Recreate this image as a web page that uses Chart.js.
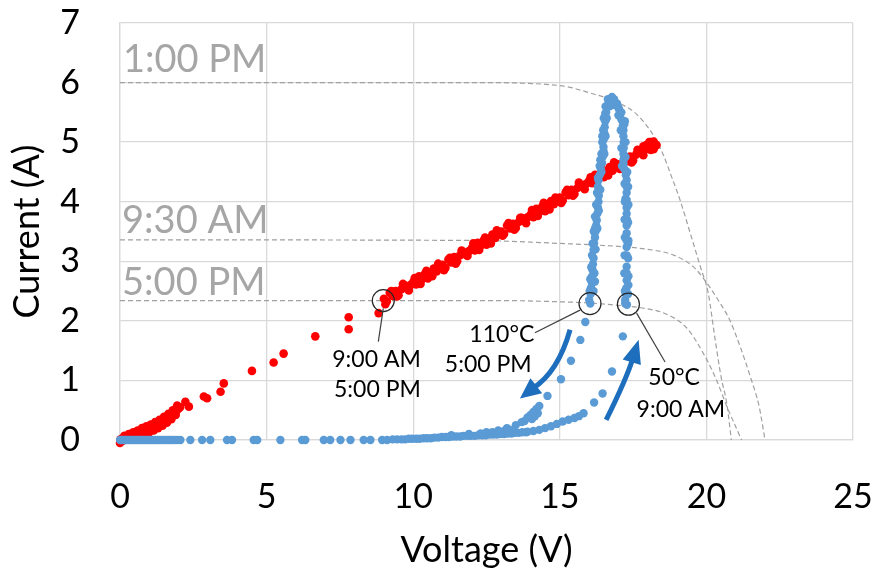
<!DOCTYPE html>
<html>
<head>
<meta charset="utf-8">
<script src="https://cdn.jsdelivr.net/npm/chart.js@4.4.0/dist/chart.umd.min.js"></script>
<style>
  html, body { margin: 0; padding: 0; background: #fff; }
</style>
</head>
<body>
<canvas id="ivChart" width="877" height="573"></canvas>
<script>
// axis ticks
const xTicks = [0, 5, 10, 15, 20, 25];
const yTicks = [0, 1, 2, 3, 4, 5, 6, 7];

// red series: load line (9:00 AM - 5:00 PM)
const redVoltage = [
  0, 0.02, 0.08, 0.12, 0.18, 0.22, 0.28, 0.33, 0.38, 0.42, 0.48, 0.52, 0.58, 0.63, 0.68, 0.72, 0.78, 0.83, 0.88, 0.93,
  0.98, 1.03, 1.08, 1.13, 1.18, 1.23, 1.28, 1.33, 1.38, 1.43, 1.48, 1.53, 1.58, 1.63, 1.68, 1.73, 1.8, 1.86, 1.93, 2.0, 2.05,
  0.1, 0.25, 0.4, 0.55, 0.7, 0.85, 1.0, 1.15, 1.3, 1.45, 1.6, 1.75, 1.9,
  0.15, 0.3, 0.45, 0.6, 0.75, 0.9, 1.05, 1.2, 1.35, 1.5, 1.65, 1.8, 1.95,
  2.23, 2.35, 2.86, 2.97, 3.43, 3.54, 4.5, 5.24, 5.58, 6.66, 7.8, 7.8, 8.82,
  9.0, 9.1, 9.2, 9.3, 9.4, 9.5, 9.6, 9.7, 9.8, 9.9, 10.0, 10.1, 10.2, 10.3, 10.4, 10.5, 10.6, 10.7, 10.8, 10.9,
  11.0, 11.1, 11.2, 11.3, 11.4, 11.5, 11.6, 11.7, 11.8, 11.9, 12.0, 12.1, 12.2, 12.3, 12.4, 12.5, 12.6, 12.7, 12.8, 12.9,
  13.0, 13.1, 13.2, 13.3, 13.4, 13.5, 13.6, 13.7, 13.8, 13.9, 14.0, 14.1, 14.2, 14.3, 14.4, 14.5, 14.6, 14.7, 14.8, 14.9,
  15.0, 15.1, 15.2, 15.3, 15.4, 15.5, 15.6, 15.7, 15.8, 15.9, 16.0, 16.1, 16.2, 16.3, 16.4, 16.5, 16.6, 16.7, 16.8, 16.9,
  17.0, 17.1, 17.2, 17.3, 17.4, 17.5, 17.6, 17.7, 17.8, 17.9, 18.0, 18.1, 18.2,
  9.05, 9.25, 9.45, 9.65, 9.85, 10.05, 10.25, 10.45, 10.65, 10.85, 11.05, 11.25, 11.45, 11.65, 11.85, 12.05, 12.25, 12.45,
  12.65, 12.85, 13.05, 13.25, 13.45, 13.65, 13.85, 14.05, 14.25, 14.45, 14.65, 14.85, 15.05, 15.25, 15.45, 15.65, 15.85,
  16.05, 16.25, 16.45, 16.65, 16.85, 17.05, 17.25, 17.45, 17.65, 17.85, 18.05,
  17.85, 17.95, 18.05, 18.1, 18.15, 18.25, 18.2, 18.3
];
const redCurrent = [
  -0.05, 0.01, 0.02, 0.04, 0.03, 0.06, 0.05, 0.08, 0.07, 0.1, 0.09, 0.12, 0.11, 0.14, 0.13, 0.16, 0.15, 0.18, 0.17, 0.2,
  0.18, 0.22, 0.2, 0.25, 0.23, 0.27, 0.26, 0.3, 0.29, 0.33, 0.32, 0.36, 0.35, 0.39, 0.38, 0.42, 0.43, 0.47, 0.49, 0.53, 0.55,
  -0.01, 0.02, 0.04, 0.06, 0.09, 0.11, 0.13, 0.16, 0.2, 0.24, 0.29, 0.35, 0.42,
  0.07, 0.1, 0.13, 0.16, 0.2, 0.23, 0.26, 0.3, 0.34, 0.39, 0.44, 0.5, 0.58,
  0.64, 0.56, 0.73, 0.7, 0.81, 0.95, 1.16, 1.3, 1.45, 1.74, 1.86, 2.06, 2.13,
  2.37, 2.33, 2.47, 2.42, 2.50, 2.43, 2.53, 2.60, 2.55, 2.60, 2.65, 2.61, 2.75, 2.70, 2.79, 2.71, 2.81, 2.88, 2.83, 2.89,
  2.94, 2.89, 3.03, 2.98, 3.07, 3.00, 3.10, 3.16, 3.11, 3.17, 3.22, 3.18, 3.31, 3.26, 3.35, 3.28, 3.38, 3.45, 3.39, 3.45,
  3.50, 3.46, 3.60, 3.55, 3.63, 3.56, 3.66, 3.73, 3.68, 3.74, 3.78, 3.74, 3.88, 3.83, 3.92, 3.84, 3.94, 4.01, 3.96, 4.02,
  4.07, 4.02, 4.16, 4.11, 4.20, 4.13, 4.23, 4.29, 4.24, 4.30, 4.35, 4.31, 4.45, 4.39, 4.48, 4.41, 4.51, 4.58, 4.52, 4.58,
  4.63, 4.59, 4.73, 4.68, 4.76, 4.69, 4.79, 4.86, 4.81, 4.87, 4.91, 4.87, 5.01,
  2.28, 2.50, 2.41, 2.62, 2.51, 2.72, 2.62, 2.84, 2.75, 2.96, 2.85, 3.06, 2.96, 3.18, 3.09, 3.30, 3.19, 3.40,
  3.30, 3.52, 3.43, 3.64, 3.53, 3.73, 3.64, 3.86, 3.76, 3.98, 3.87, 4.07, 3.98, 4.20, 4.10, 4.32, 4.21,
  4.41, 4.32, 4.54, 4.44, 4.66, 4.55, 4.75, 4.66, 4.87, 4.78, 5.00,
  4.93, 4.95, 4.96, 5.0, 4.93, 4.97, 4.88, 4.95
];

// blue series: module temperature loop (9:00 AM -> 5:00 PM)
const blueVoltage = [
  0, 0.05, 0.1, 0.16, 0.22, 0.28, 0.34, 0.4, 0.47, 0.54, 0.6, 0.67, 0.74, 0.8, 0.87, 0.94, 1.0, 1.07, 1.14, 1.2,
  1.28, 1.36, 1.44, 1.52, 1.6, 1.68, 1.76, 1.85, 1.95, 2.06, 2.4, 2.8, 3.08, 3.65, 3.82, 4.56, 4.68, 5.47, 6.21, 6.32,
  6.95, 7.17, 7.52, 7.86, 8.31, 8.54, 8.94, 9.11, 9.3, 9.45, 9.6, 9.72, 9.85, 9.97, 10.1, 10.22, 10.35, 10.47, 10.6, 10.72,
  10.85, 10.97, 11.1, 11.22, 11.35, 11.47, 11.6, 11.72, 11.85, 11.97, 12.1, 12.22, 12.35, 12.47, 12.6, 12.72, 12.85, 12.97, 13.1, 13.22,
  13.35, 13.47, 13.6, 13.72, 13.85,
  11.3, 11.9, 12.3, 12.7, 13.1, 13.4,
  // afternoon branch
  12.5, 12.9, 13.2, 13.5, 13.7, 13.8, 13.9, 14.0, 14.05, 14.1, 14.15, 14.2, 14.25, 14.3, 14.58, 15.04, 15.38, 15.7, 15.87, 16.04,
  // morning branch
  13.9, 14.1, 14.3, 14.5, 14.7, 14.9, 15.1, 15.3, 15.5, 15.65, 15.81, 16.17, 16.46, 16.78, 17.15, 17.29,
  // left rising band
  16.0, 16.05, 16.06, 16.1, 16.2, 16.09, 16.12, 16.13, 16.15, 16.15, 16.17, 16.2, 16.22, 16.24, 16.26, 16.28, 16.3, 16.32,
  16.33, 16.33, 16.32, 16.36, 16.4, 16.44, 16.46, 16.49, 16.49, 16.5, 16.52, 16.53, 16.55, 16.55, 16.6, 16.66, 16.72, 16.78,
  16.08, 16.2, 16.3, 16.38, 16.45, 16.58,
  16.02, 16.04, 16.08, 16.1, 16.12, 16.16, 16.2, 16.24, 16.27, 16.3, 16.36, 16.42, 16.45, 16.48, 16.5, 16.56, 16.64,
  16.15, 16.18, 16.22, 16.28, 16.33, 16.38, 16.42, 16.52, 16.56, 16.6, 16.7,
  // right band
  16.85, 16.95, 17.0, 17.06, 17.1, 17.15, 17.17, 17.17, 17.18, 17.18, 17.17, 17.17, 17.17, 17.2, 17.25, 17.28, 17.28, 17.28,
  17.28, 17.28, 17.28, 17.29, 17.28, 17.28, 17.28, 17.28, 17.28, 17.28, 17.28, 17.28, 17.27, 17.25, 17.23, 17.23,
  17.22, 17.24, 17.33, 17.34, 17.02,
  17.22, 17.2, 17.21, 17.22, 17.21, 17.22, 17.21, 17.12, 17.1, 17.08, 17.0, 16.9,
  17.33, 17.34, 17.33, 17.34, 17.33, 17.34, 17.33, 17.3, 17.24, 17.24, 17.2, 17.1
];
const blueCurrent = [
  0, 0, 0, 0, 0, 0, 0, 0, 0, 0, 0, 0, 0, 0, 0, 0, 0, 0, 0, 0,
  0, 0, 0, 0, 0, 0, 0, 0, 0, 0, 0, 0, 0, 0, 0, 0, 0, 0, 0, 0,
  0, 0, 0, 0, 0, 0, 0, 0, 0.01, 0.01, 0.01, 0.01, 0.02, 0.02, 0.02, 0.02, 0.03, 0.03, 0.03, 0.04,
  0.04, 0.05, 0.05, 0.05, 0.06, 0.06, 0.06, 0.07, 0.07, 0.07, 0.07, 0.08, 0.08, 0.08, 0.09, 0.09, 0.09, 0.1, 0.1, 0.11,
  0.11, 0.12, 0.12, 0.13, 0.13,
  0.08, 0.1, 0.11, 0.13, 0.15, 0.17,
  0.13, 0.16, 0.2, 0.25, 0.3, 0.32, 0.38, 0.42, 0.35, 0.47, 0.4, 0.52, 0.45, 0.57, 0.74, 1.02, 1.33, 1.68, 1.98, 2.29,
  0.14, 0.15, 0.17, 0.2, 0.23, 0.27, 0.31, 0.34, 0.37, 0.4, 0.45, 0.63, 0.78, 1.15, 1.74, 2.27,
  2.35, 2.45, 2.55, 2.63, 2.66, 2.74, 2.85, 2.95, 3.05, 3.19, 3.3, 3.4, 3.5, 3.6, 3.69, 3.8, 3.9, 4.0,
  4.1, 4.2, 4.36, 4.45, 4.55, 4.65, 4.75, 4.85, 4.92, 5.05, 5.15, 5.25, 5.35, 5.48, 5.58, 5.65, 5.72, 5.76,
  2.9, 3.55, 4.25, 4.7, 5.1, 5.5,
  2.5, 2.7, 2.9, 3.1, 3.3, 3.5, 3.75, 3.95, 4.15, 4.4, 4.6, 4.8, 5.0, 5.2, 5.4, 5.6, 5.72,
  2.5, 2.8, 3.2, 3.55, 3.85, 4.2, 4.5, 4.8, 5.1, 5.4, 5.6,
  5.72, 5.65, 5.58, 5.48, 5.38, 5.28, 5.2, 5.1, 5.0, 4.9, 4.8, 4.7, 4.64, 4.55, 4.45, 4.36, 4.25, 4.15,
  4.03, 3.9, 3.8, 3.7, 3.6, 3.47, 3.35, 3.24, 3.1, 2.91, 2.8, 2.68, 2.55, 2.45, 2.35, 2.29,
  5.35, 4.05, 3.3, 2.6, 5.55,
  2.5, 2.8, 3.1, 3.4, 3.7, 4.0, 4.3, 4.6, 4.9, 5.2, 5.45, 5.62,
  2.45, 2.75, 3.05, 3.35, 3.65, 3.95, 4.25, 4.5, 4.75, 5.0, 5.3, 5.5
];

// grey dashed I-V curves
const curve1pmV = [0, 12, 15, 16, 17, 17.7, 18.4, 18.85, 19.1, 19.45, 19.8, 20.06, 20.3, 20.5, 20.7, 20.85];
const curve1pmI = [6.0, 6.0, 5.95, 5.83, 5.66, 5.43, 4.93, 4.37, 4.03, 3.47, 2.9, 2.47, 1.68, 1.06, 0.6, 0];
const curve930V = [0, 12, 15, 17, 17.7, 18.9, 19.55, 19.95, 20.4, 20.8, 21.15, 21.5, 21.8, 22.0];
const curve930I = [3.36, 3.35, 3.3, 3.25, 3.22, 3.1, 2.91, 2.68, 2.35, 2.01, 1.57, 1.06, 0.56, 0];
const curve5pmV = [0, 13, 15, 16, 17, 17.75, 18.6, 19.33, 19.9, 20.35, 20.7, 21.2];
const curve5pmI = [2.34, 2.34, 2.32, 2.3, 2.26, 2.22, 2.12, 1.88, 1.45, 1.0, 0.56, 0];

// annotation anchors (data units)
const curveLabels = [
  { text: '1:00 PM', x: 0.1, y: 6.18 },
  { text: '9:30 AM', x: 0.07, y: 3.475 },
  { text: '5:00 PM', x: 0.07, y: 2.43 }
];
const noteLabels = [
  { text: '9:00 AM', x: 8.75, y: 1.225, align: 'center' },
  { text: '5:00 PM', x: 8.78, y: 0.727, align: 'center' },
  { text: '110\u00B0C', x: 14.13, y: 1.65, align: 'right' },
  { text: '5:00 PM', x: 14.04, y: 1.147, align: 'right' },
  { text: '50\u00B0C', x: 18.02, y: 0.923, align: 'left' },
  { text: '9:00 AM', x: 17.62, y: 0.391, align: 'left' }
];
const circleMarks = [[8.98, 2.34], [16.03, 2.29], [17.34, 2.28]];
const leaderLines = [
  [[8.98, 2.21], [8.81, 1.65]],
  [[15.69, 2.18], [14.15, 1.80]],
  [[17.62, 2.13], [18.59, 1.31]]
];
// start, control, end, tip
const arrowPaths = [
  [[15.35, 1.85], [14.94, 1.14], [14.09, 0.87], [13.78, 0.75]],
  [[16.58, 0.336], [17.26, 1.01], [17.50, 1.38], [17.63, 1.59]]
];

const toPoints = (xs, ys) => xs.map((v, i) => ({ x: v, y: ys[i] }));

const FONT = 'Lato, "Open Sans", sans-serif';

const annotate = {
  id: 'annotate',
  afterDatasetsDraw(chart) {
    const { ctx } = chart;
    const xs = chart.scales.x, ys = chart.scales.y;
    const px = v => xs.getPixelForValue(v);
    const py = v => ys.getPixelForValue(v);
    ctx.save();

    ctx.fillStyle = '#A6A6A6';
    ctx.font = '38px ' + FONT;
    ctx.textAlign = 'left';
    ctx.textBaseline = 'alphabetic';
    curveLabels.forEach(l => ctx.fillText(l.text, px(l.x), py(l.y)));

    ctx.strokeStyle = '#262626';
    ctx.lineWidth = 1.2;
    circleMarks.forEach(c => {
      ctx.beginPath();
      ctx.arc(px(c[0]), py(c[1]), 11, 0, Math.PI * 2);
      ctx.stroke();
    });
    ctx.strokeStyle = '#404040';
    leaderLines.forEach(l => {
      ctx.beginPath();
      ctx.moveTo(px(l[0][0]), py(l[0][1]));
      ctx.lineTo(px(l[1][0]), py(l[1][1]));
      ctx.stroke();
    });

    ctx.fillStyle = '#000';
    ctx.font = '23px ' + FONT;
    noteLabels.forEach(l => {
      ctx.textAlign = l.align;
      ctx.fillText(l.text, px(l.x), py(l.y));
    });

    ctx.strokeStyle = '#1E6EBE';
    ctx.fillStyle = '#1E6EBE';
    ctx.lineWidth = 5;
    arrowPaths.forEach(a => {
      const [s, c, e, t] = a.map(p => [px(p[0]), py(p[1])]);
      ctx.beginPath();
      ctx.moveTo(s[0], s[1]);
      ctx.quadraticCurveTo(c[0], c[1], e[0], e[1]);
      ctx.stroke();
      const dx = t[0] - e[0], dy = t[1] - e[1];
      const len = Math.hypot(dx, dy);
      const nx = -dy / len, ny = dx / len;
      ctx.beginPath();
      ctx.moveTo(t[0] + dx * 0.45, t[1] + dy * 0.45);
      ctx.lineTo(e[0] - dx * 0.35 + nx * 9.5, e[1] - dy * 0.35 + ny * 9.5);
      ctx.lineTo(e[0] - dx * 0.35 - nx * 9.5, e[1] - dy * 0.35 - ny * 9.5);
      ctx.closePath();
      ctx.fill();
    });
    ctx.restore();
  }
};

const dashed = (xs, ys) => ({
  data: toPoints(xs, ys),
  showLine: true,
  pointRadius: 0,
  borderColor: '#A0A0A0',
  borderWidth: 1.2,
  borderDash: [5, 3],
  cubicInterpolationMode: 'monotone',
  order: 3
});

new Chart(document.getElementById('ivChart'), {
  type: 'scatter',
  data: {
    datasets: [
      {
        label: 'Temperature loop',
        data: toPoints(blueVoltage, blueCurrent),
        backgroundColor: '#5B9BD5',
        borderWidth: 0,
        pointRadius: 4.2,
        clip: false,
        order: 1
      },
      {
        label: 'Load line',
        data: toPoints(redVoltage, redCurrent),
        backgroundColor: '#FF0000',
        borderWidth: 0,
        pointRadius: 4.3,
        clip: false,
        order: 2
      },
      dashed(curve1pmV, curve1pmI),
      dashed(curve930V, curve930I),
      dashed(curve5pmV, curve5pmI)
    ]
  },
  options: {
    responsive: false,
    animation: false,
    layout: { padding: { top: 23, right: 24, left: 0, bottom: 0 } },
    plugins: { legend: { display: false }, tooltip: { enabled: false } },
    scales: {
      x: {
        min: 0, max: 25,
        afterBuildTicks: s => { s.ticks = xTicks.map(v => ({ value: v })); },
        afterFit: s => { s.height = 133; s.paddingLeft = 0; s.paddingRight = 0; },
        grid: { color: '#D9D9D9', lineWidth: 1.3, drawTicks: false },
        border: { color: '#D9D9D9', width: 1.3 },
        ticks: { color: '#000', padding: 37, font: { family: FONT, size: 34 } },
        title: { display: true, text: 'Voltage (V)', color: '#000', padding: { bottom: 1 }, font: { family: FONT, size: 36 } }
      },
      y: {
        min: 0, max: 7,
        afterBuildTicks: s => { s.ticks = yTicks.map(v => ({ value: v })); },
        afterFit: s => { s.width = 120; s.paddingTop = 0; s.paddingBottom = 0; },
        grid: { color: '#D9D9D9', lineWidth: 1.3, drawTicks: false },
        border: { color: '#D9D9D9', width: 1.3 },
        ticks: { color: '#000', padding: 40, font: { family: FONT, size: 34 } },
        title: { display: true, text: 'Current (A)', color: '#000', padding: { top: 6 }, font: { family: FONT, size: 36 } }
      }
    }
  },
  plugins: [annotate]
});
</script>
</body>
</html>
